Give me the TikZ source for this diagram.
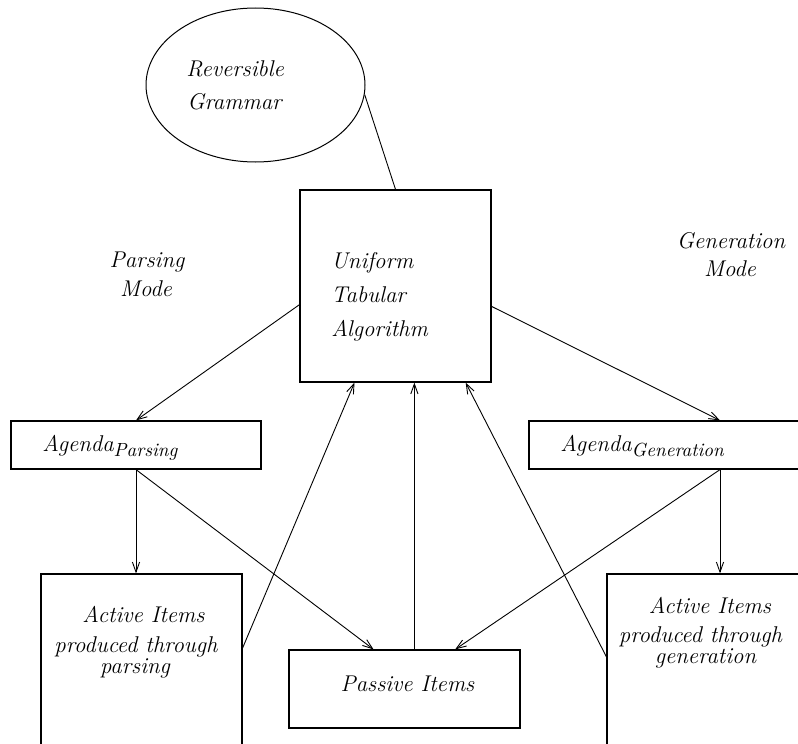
\documentclass[tikz,border=0pt]{standalone}
\usetikzlibrary{shapes.geometric,arrows.meta,calc}
\begin{document}
\begin{tikzpicture}[x=0.5pt,y=-0.5pt,
  box/.style={draw, line width=0.6pt, rectangle, inner sep=0pt},
  lbl/.style={font=\fontsize{11.4}{14}\selectfont\itshape, inner sep=0pt, anchor=base},
  lblw/.style={lbl, anchor=base west},
  subs/.style={},
  conn/.style={line width=0.45pt},
  arr/.style={conn, -{Straight Barb[length=5pt,width=3.6pt]}}]
\path[use as bounding box] (0,0) rectangle (798,744);
\clip (0,0) rectangle (798,744);
% shapes
\node[draw, ellipse, minimum width=109.5pt, minimum height=77pt, inner sep=0pt, line width=0.5pt] (gram) at (255.5,85) {};
\node[box, minimum width=95.5pt, minimum height=96pt] (uta) at (395.5,286) {};
\node[box, minimum width=125pt, minimum height=24pt] (agp) at (136,445) {};
\node[box, minimum width=191pt, minimum height=24pt] (agg) at (720,445) {};
\node[box, minimum width=100.5pt, minimum height=103pt] (actp) at (141.5,677) {};
\node[box, minimum width=114pt, minimum height=103pt] (actg) at (721,677) {};
\node[box, minimum width=115.5pt, minimum height=39pt] (passive) at (404.5,689) {};
% texts
\node[lblw] (t1) at (186,76) {Reversible};
\node[lblw] (t2) at (187,109) {Grammar};
\node[lbl] (pm1) at (147,267) {Parsing};
\node[lbl] (pm2) at (146,296) {Mode};
\node[lblw] (u1) at (331,268) {Uniform};
\node[lblw] (u2) at (331,302) {Tabular};
\node[lblw] (u3) at (331,336) {Algorithm};
\node[lbl] (gm1) at (731,248) {Generation};
\node[lbl] (gm2) at (730,276) {Mode};
\node[lblw] (ap) at (42,451) {Agenda\raisebox{-2.5pt}{\fontsize{9.5}{10}\selectfont Parsing}};
\node[lblw] (ag) at (560,451) {Agenda\raisebox{-2.5pt}{\fontsize{9.5}{10}\selectfont Generation}};
\node[lbl] (a1) at (143.5,622) {Active Items};
\node[lbl] (a2) at (136,652) {produced through};
\node[lbl] (a3) at (135,673) {parsing};
\node[lbl] (g1) at (710,613) {Active Items};
\node[lbl] (g2) at (700.5,642) {produced through};
\node[lbl] (g3) at (705.5,663) {generation};
\node[lbl] (pi) at (407.5,691) {Passive Items};
% connectors
\draw[conn] (gram.-5) -- (uta.north);
\draw[arr] (uta.191.25) -- (agp.north);
\draw[arr] (uta.-12.4) -- (agg.north);
\draw[arr] (agp.south) -- (agp.south |- actp.north);
\draw[arr] (agp.south) -- (passive.128);
\draw[arr] (agg.south) -- (passive.38.8);
\draw[arr] (agg.south) -- (agg.south |- actg.north);
\draw[arr] (passive.76.3) -- (passive.76.3 |- uta.south);
\draw[arr] (actp.16) -- (uta.247.1);
\draw[arr] (actg.170.5) -- (uta.-54.9);
\end{tikzpicture}
\end{document}
